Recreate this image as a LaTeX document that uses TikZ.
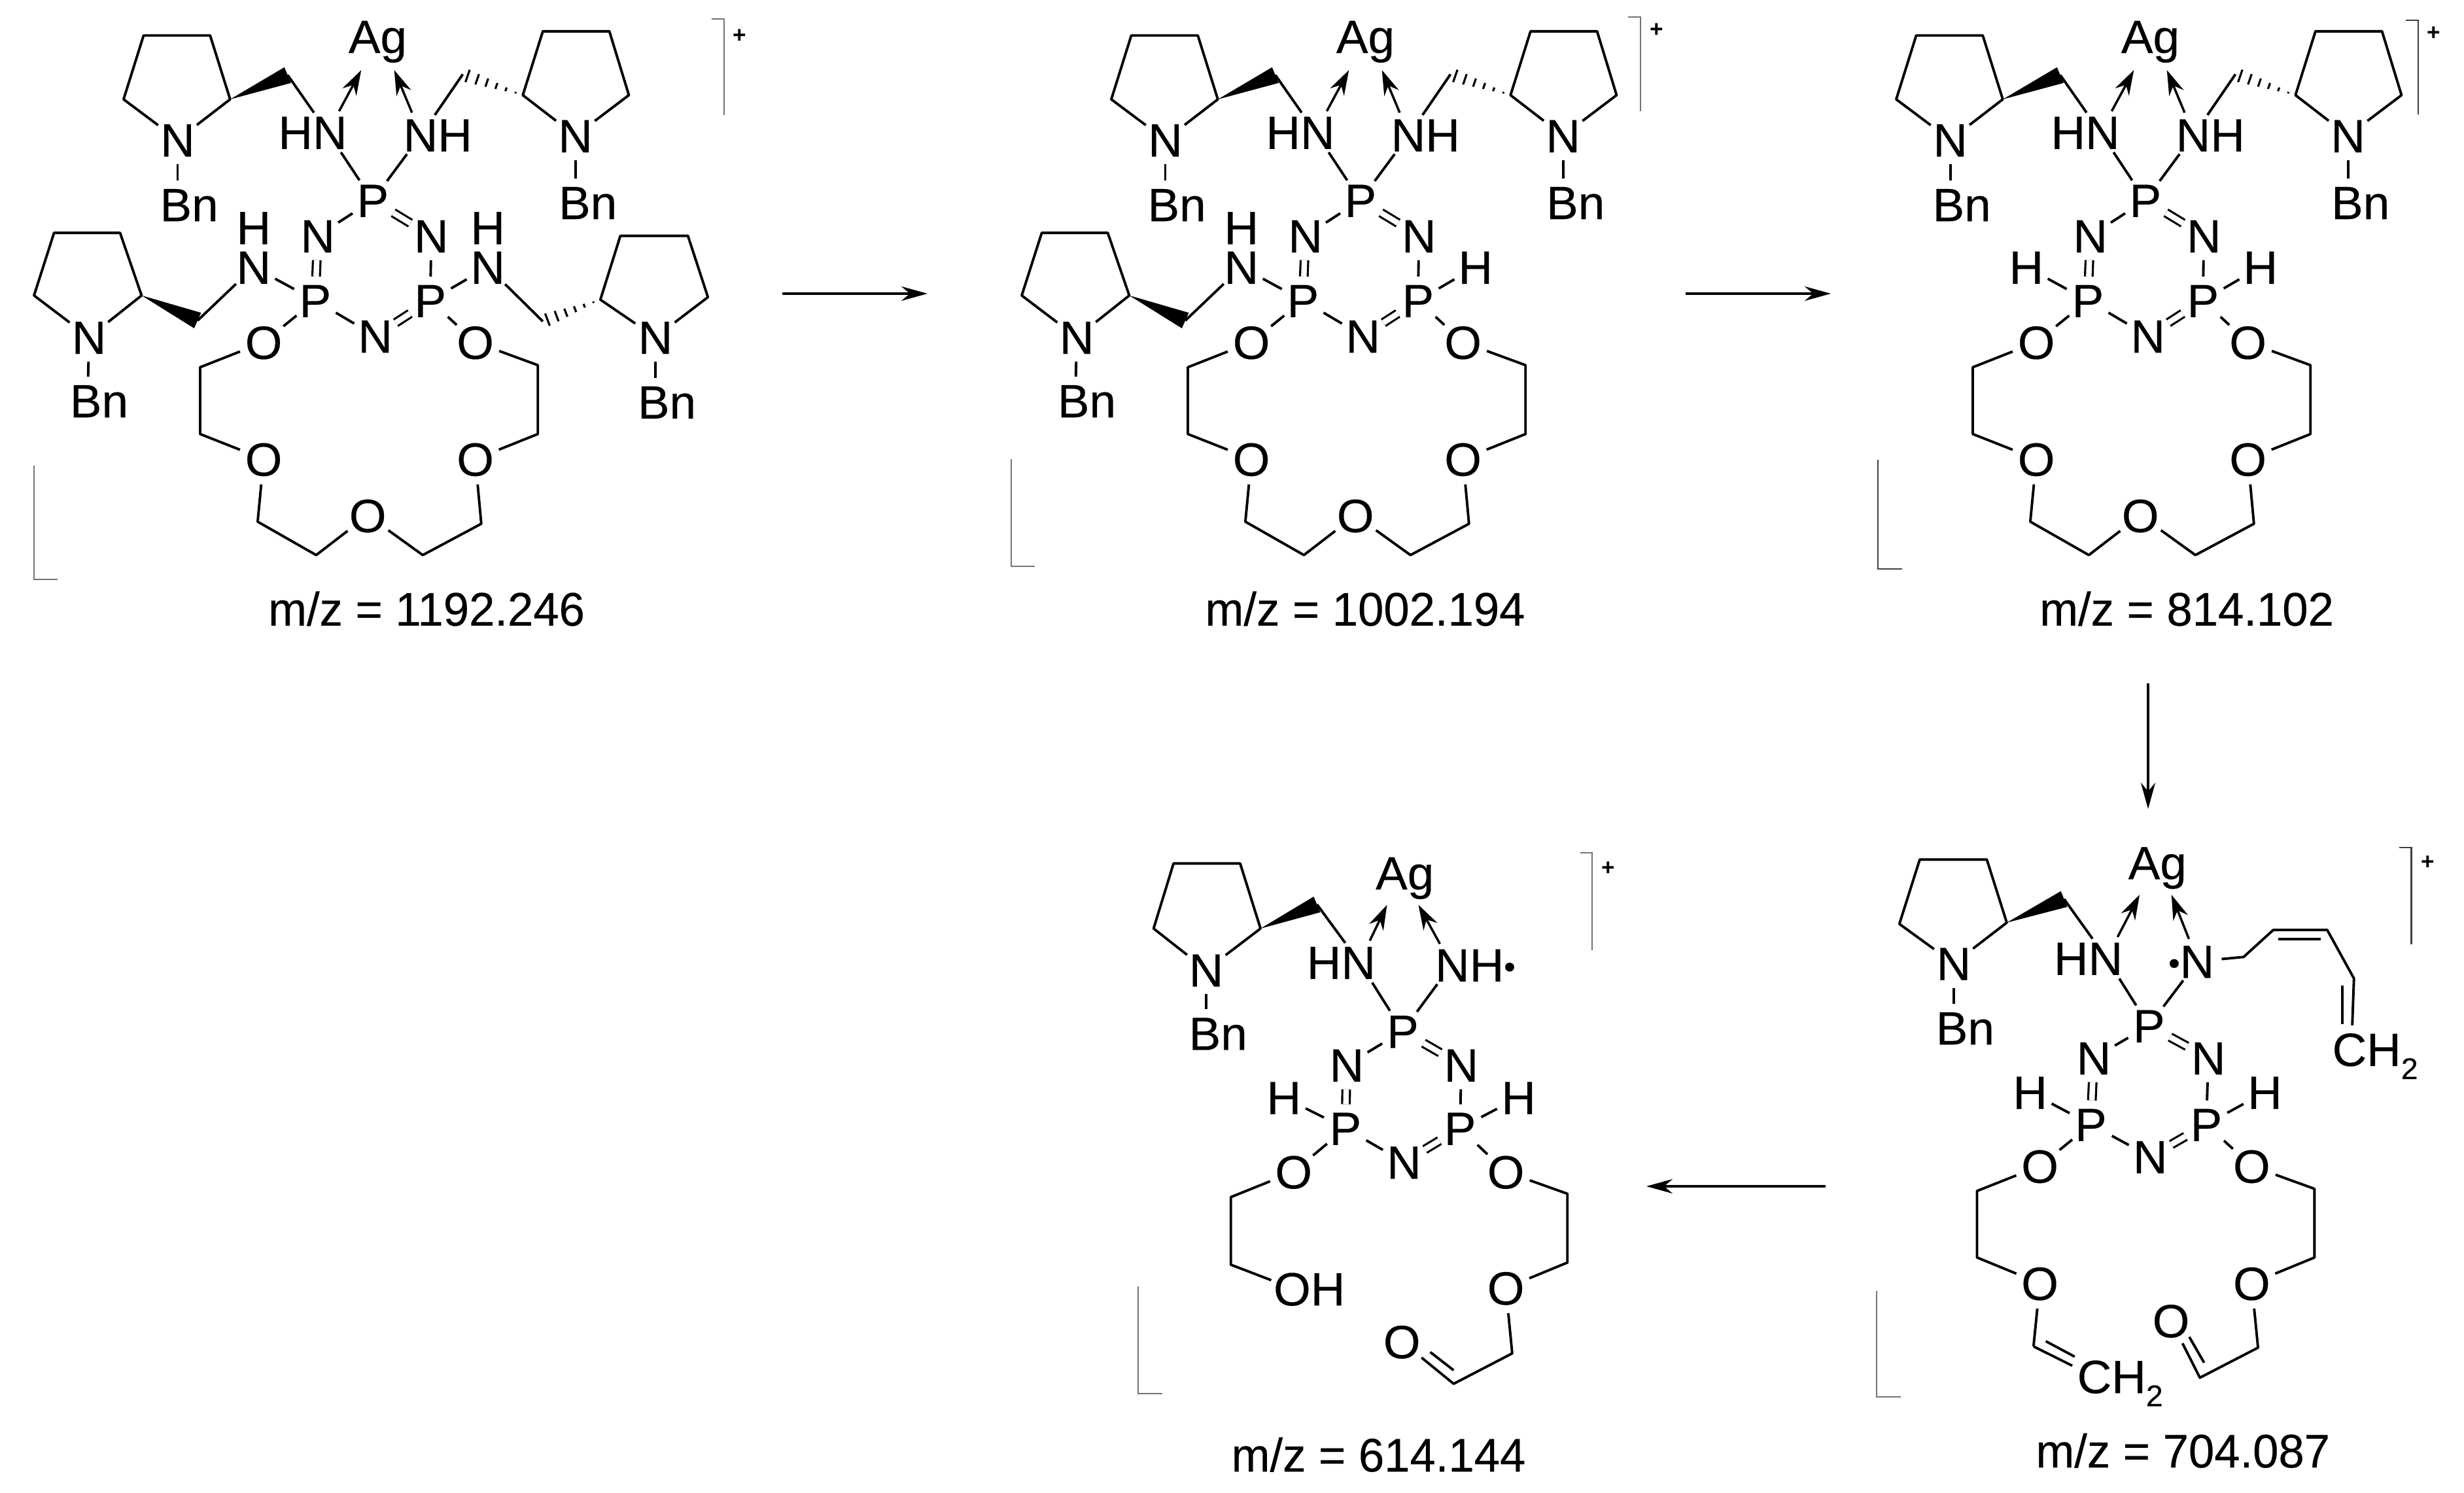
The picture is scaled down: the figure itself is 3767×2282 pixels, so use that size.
\documentclass[tikz,border=0pt]{standalone}
\usepackage{fontspec}
\usetikzlibrary{calc,arrows.meta}
\setmainfont{Liberation Sans}
\newfontfamily\atomf[FakeStretch=1.02,FakeBold=.3]{Liberation Sans}
\newfontfamily\labf[FakeStretch=.98,FakeBold=.3]{Liberation Sans}
\tikzset{
 bond/.style={line width=1.1pt,line join=round,line cap=butt},
 dbl/.style={bond,double,double distance=2.4pt,line width=.9pt},
 dative/.style={line width=1pt,-{Stealth[length=.38cm,width=.24cm]}},
 react/.style={line width=1.1pt,-{Stealth[length=.4cm,width=.22cm]}},
 atom/.style={circle,inner sep=0pt,minimum size=.72cm,font=\atomf\fontsize{20.3pt}{22pt}\selectfont,text height=14.5pt,text depth=0pt},
 spot/.style={circle,inner sep=0pt,minimum size=.72cm},
 txt/.style={inner sep=0pt,font=\atomf\fontsize{20.3pt}{22pt}\selectfont,text height=14.5pt,text depth=0pt},
 mz/.style={inner sep=0pt,font=\labf\fontsize{20.5pt}{22pt}\selectfont,text height=14.6pt,text depth=0pt},
 brk/.style={line width=.6pt,draw=black!55},
 brkd/.style={line width=.7pt,draw=black!75},
 chg/.style={inner sep=0pt,font=\bfseries\fontsize{10pt}{10pt}\selectfont},
 big/.style={x=.00765cm,y=-.00638cm},
}
\newcommand\wedgeb[2]{\fill[line join=round] (#1) -- ($(#2)!.13cm!90:(#1)$) -- ($(#2)!.13cm!-90:(#1)$) -- cycle;}
\newcommand\hashb[2]{\foreach \t/\w in {.12/.012cm,.28/.03cm,.44/.048cm,.6/.066cm,.76/.084cm,.92/.1cm}{\draw[line width=.9pt] ($(#1)!\t!(#2)!\w!90:(#2)$) -- ($(#1)!\t!(#2)!\w!-90:(#2)$);}}
\newcommand\subtwo{\raisebox{-.28em}{\fontsize{13pt}{13pt}\selectfont 2}}
\newcommand\raddot{\raisebox{.08em}{\fontsize{14pt}{14pt}\selectfont •}}
% pieces of the tetra-, di- and mono-substituted rings of the upper row
\newcommand\topLeft{
 \node[txt] (Ag) at (755,87) {Ag};
 \coordinate (agL) at (722,168); \coordinate (agR) at (788,168);
 \node[txt] (HNt) at (625,317) {HN}; \node[spot] (HNa) at (655,317) {};
 \node[atom] (tlN) at (355,335) {N};
 \coordinate (tl1) at (247,238); \coordinate (tl2) at (287,85); \coordinate (tl3) at (420,85); \coordinate (tl4) at (460,238); \coordinate (tlC) at (575,180);
 \draw[bond] (tlN) -- (tl1) -- (tl2) -- (tl3) -- (tl4) -- (tlN);
 \wedgeb{tl4}{tlC}
 \draw[bond] (tlC) -- (HNa);
 \node[txt] (tlBn) at (378,490) {Bn}; \node[spot] (tlB) at (355,490) {};
 \draw[bond] (tlN) -- (tlB);
 \draw[dative] (HNa) -- (agL);
}
\newcommand\topRight{
 \node[txt] (NHt) at (875,323) {NH}; \node[spot] (NHa) at (842,323) {};
 \node[atom] (trN) at (1150,325) {N};
 \coordinate (tr1) at (1045,228); \coordinate (tr2) at (1085,75); \coordinate (tr3) at (1218,75); \coordinate (tr4) at (1257,228); \coordinate (trC) at (925,178);
 \draw[bond] (trN) -- (tr1) -- (tr2) -- (tr3) -- (tr4) -- (trN);
 \hashb{tr1}{trC}
 \draw[bond] (trC) -- (NHa);
 \node[txt] (trBn) at (1175,485) {Bn}; \node[spot] (trB) at (1150,485) {};
 \draw[bond] (trN) -- (trB);
 \draw[dative] (NHa) -- (agR);
}
\newcommand\ringA{
 \node[atom] (Pt) at (745,480) {P}; \node[atom] (NL) at (635,565) {N}; \node[atom] (NR) at (862,565) {N};
 \node[atom] (PL) at (630,720) {P}; \node[atom] (PR) at (860,720) {P}; \node[atom] (Nb) at (750,805) {N};
 \draw[bond] (HNa) -- (Pt); \draw[bond] (NHa) -- (Pt);
 \draw[bond] (Pt) -- (NL); \draw[dbl] (Pt) -- (NR); \draw[dbl] (NL) -- (PL);
 \draw[bond] (NR) -- (PR); \draw[bond] (PL) -- (Nb); \draw[dbl] (PR) -- (Nb);
}
\newcommand\crown{
 \node[atom] (O1) at (527,820) {O}; \node[atom] (O2) at (527,1100) {O}; \node[atom] (O3) at (735,1235) {O};
 \node[atom] (O4) at (950,1100) {O}; \node[atom] (O5) at (950,820) {O};
 \coordinate (c1) at (400,880); \coordinate (c2) at (400,1040); \coordinate (c3) at (515,1250); \coordinate (c4) at (632,1330);
 \coordinate (c5) at (845,1330); \coordinate (c6) at (962,1255); \coordinate (c7) at (1075,1040); \coordinate (c8) at (1075,875);
 \draw[bond] (PL) -- (O1) -- (c1) -- (c2) -- (O2) -- (c3) -- (c4) -- (O3) -- (c5) -- (c6) -- (O4) -- (c7) -- (c8) -- (O5) -- (PR);
}
\newcommand\subL{
 \node[atom] (lN) at (507,640) {N}; \node[txt] (lNH) at (507,545) {H};
 \node[atom] (blN) at (178,808) {N};
 \coordinate (bl1) at (68,708); \coordinate (bl2) at (108,558); \coordinate (bl3) at (240,558); \coordinate (bl4) at (283,708); \coordinate (blC) at (395,768);
 \draw[bond] (blN) -- (bl1) -- (bl2) -- (bl3) -- (bl4) -- (blN);
 \wedgeb{bl4}{blC}
 \draw[bond] (blC) -- (lN); \draw[bond] (lN) -- (PL);
 \node[txt] (blBn) at (198,960) {Bn}; \node[spot] (blB) at (175,960) {};
 \draw[bond] (blN) -- (blB);
}
\newcommand\subR{
 \node[atom] (rN) at (975,640) {N}; \node[txt] (rNH) at (975,545) {H};
 \node[atom] (brN) at (1310,808) {N};
 \coordinate (br1) at (1200,718); \coordinate (br2) at (1240,565); \coordinate (br3) at (1375,565); \coordinate (br4) at (1415,712); \coordinate (brC) at (1085,770);
 \draw[bond] (brN) -- (br1) -- (br2) -- (br3) -- (br4) -- (brN);
 \hashb{br1}{brC}
 \draw[bond] (brC) -- (rN); \draw[bond] (rN) -- (PR);
 \node[txt] (brBn) at (1333,963) {Bn}; \node[spot] (brB) at (1310,963) {};
 \draw[bond] (brN) -- (brB);
}
\newcommand\hL{\node[atom] (lH) at (507,640) {H}; \draw[bond] (lH) -- (PL);}
\newcommand\hR{\node[atom] (rH) at (975,640) {H}; \draw[bond] (rH) -- (PR);}
\begin{document}
\begin{tikzpicture}[x=.01cm,y=-.01cm]
\useasboundingbox (0,0) rectangle (3767,2282);
% molecule 1
\begin{scope}[big,name prefix=a-]
 \topLeft \topRight \ringA \crown \subL \subR
\end{scope}
\draw[brk] (1088,29) -- (1107,29) -- (1107,176);
\node[chg] (p1) at (1131,55) {+};
\draw[brk] (52,712) -- (52,886) -- (88,886);
\node[mz] (mz1) at (652,931) {m/z = 1192.246};
% molecule 2
\begin{scope}[shift={(1510,0)},big,name prefix=b-]
 \topLeft \topRight \ringA \crown \subL \hR
\end{scope}
\draw[brk] (2489,26) -- (2508,26) -- (2508,170);
\node[chg] (p2) at (2533,46) {+};
\draw[brk] (1546,702) -- (1546,866) -- (1582,866);
\node[mz] (mz2) at (2087,931) {m/z = 1002.194};
% molecule 3
\begin{scope}[shift={(2710,0)},big,name prefix=c-]
 \topLeft \topRight \ringA \crown \hL \hR
\end{scope}
\draw[brkd] (3678,31) -- (3697,31) -- (3697,175);
\node[chg] (p3) at (3721,51) {+};
\draw[brkd] (2871,703) -- (2871,870) -- (2908,870);
\node[mz] (mz3) at (3343,931) {m/z = 814.102};
% molecule 4
\begin{scope}[shift={(2750,1250)},x=.00649cm,y=-.00656cm,name prefix=d-]
 \node[txt] (Ag) at (845,105) {Ag};
 \coordinate (agL) at (803,180); \coordinate (agR) at (878,180);
 \node[txt] (HNt) at (682,328) {HN}; \node[spot] (HNa) at (725,328) {};
 \node[txt] (Nrad) at (925,335) {\raddot N}; \node[spot] (Na) at (940,335) {};
 \node[atom] (tlN) at (365,340) {N};
 \coordinate (tl1) at (237,248); \coordinate (tl2) at (285,98); \coordinate (tl3) at (443,98); \coordinate (tl4) at (490,245); \coordinate (tlC) at (625,190);
 \draw[bond] (tlN) -- (tl1) -- (tl2) -- (tl3) -- (tl4) -- (tlN);
 \wedgeb{tl4}{tlC}
 \draw[bond] (tlC) -- (HNa);
 \node[txt] (tlBn) at (392,490) {Bn}; \node[spot] (tlB) at (365,490) {};
 \draw[bond] (tlN) -- (tlB);
 \draw[dative] (HNa) -- (agL); \draw[dative] (Na) -- (agR);
 \node[atom] (Pt) at (825,485) {P}; \node[atom] (NL) at (695,560) {N}; \node[atom] (NR) at (965,560) {N};
 \node[atom] (PL) at (688,715) {P}; \node[atom] (PR) at (960,715) {P}; \node[atom] (Nb) at (828,790) {N};
 \draw[bond] (HNa) -- (Pt); \draw[bond] (Na) -- (Pt);
 \draw[bond] (Pt) -- (NL); \draw[dbl] (Pt) -- (NR); \draw[dbl] (NL) -- (PL);
 \draw[bond] (NR) -- (PR); \draw[bond] (PL) -- (Nb); \draw[dbl] (PR) -- (Nb);
 \node[atom] (lH) at (545,640) {H}; \draw[bond] (lH) -- (PL);
 \node[atom] (rH) at (1098,640) {H}; \draw[bond] (rH) -- (PR);
 \node[atom] (O1) at (568,812) {O}; \node[atom] (O2) at (568,1085) {O};
 \node[atom] (O4) at (1067,1085) {O}; \node[atom] (O5) at (1067,812) {O}; \node[atom] (O6) at (877,1172) {O};
 \coordinate (c1) at (420,870); \coordinate (c2) at (420,1025); \coordinate (c3) at (553,1232);
 \coordinate (c7) at (1215,1025); \coordinate (c8) at (1215,865); \coordinate (c9) at (1082,1235); \coordinate (c10) at (945,1305);
 \draw[bond] (PL) -- (O1) -- (c1) -- (c2) -- (O2) -- (c3);
 \draw[bond] (PR) -- (O5) -- (c8) -- (c7) -- (O4) -- (c9) -- (c10) -- (O6);
 \coordinate (d1) at (920,1210); \coordinate (d2) at (955,1270);
 \draw[bond] (d1) -- (d2);
 \node[txt] (cht1) at (757,1302) {CH\subtwo}; \node[spot] (ch1) at (695,1302) {};
 \draw[bond] (c3) -- (ch1);
 \coordinate (d3) at (582,1220); \coordinate (d4) at (650,1256);
 \draw[bond] (d3) -- (d4);
 \coordinate (v1) at (1048,325); \coordinate (v2) at (1118,262); \coordinate (v3) at (1245,262); \coordinate (v4) at (1308,375);
 \node[txt] (cht2) at (1358,540) {CH\subtwo}; \node[spot] (ch2) at (1302,540) {};
 \draw[bond] (Na) -- (v1) -- (v2) -- (v3) -- (v4) -- (ch2);
 \coordinate (w1) at (1130,283); \coordinate (w2) at (1230,283); \coordinate (w3) at (1280,392); \coordinate (w4) at (1280,482);
 \draw[bond] (w1) -- (w2); \draw[bond] (w3) -- (w4);
 \draw[brkd] (1415,70) -- (1443,70) -- (1443,295);
 \node[chg] (p4) at (1482,105) {+};
 \draw[brk] (183,1103) -- (183,1350) -- (240,1350);
 \node[mz] (mz4) at (905,1475) {m/z = 704.087};
\end{scope}
% molecule 5
\begin{scope}[shift={(1700,1270)},x=.00649cm,y=-.00645cm,name prefix=e-]
 \node[txt] (Ag) at (690,100) {Ag};
 \coordinate (agL) at (648,176); \coordinate (agR) at (722,176);
 \node[txt] (HNt) at (540,312) {HN}; \node[spot] (HNa) at (583,312) {};
 \node[txt] (NHr) at (856,318) {NH\raddot}; \node[spot] (Na) at (800,318) {};
 \node[atom] (tlN) at (222,330) {N};
 \coordinate (tl1) at (98,232); \coordinate (tl2) at (145,78); \coordinate (tl3) at (302,78); \coordinate (tl4) at (350,232); \coordinate (tlC) at (483,175);
 \draw[bond] (tlN) -- (tl1) -- (tl2) -- (tl3) -- (tl4) -- (tlN);
 \wedgeb{tl4}{tlC}
 \draw[bond] (tlC) -- (HNa);
 \node[txt] (tlBn) at (250,480) {Bn}; \node[spot] (tlB) at (222,480) {};
 \draw[bond] (tlN) -- (tlB);
 \draw[dative] (HNa) -- (agL); \draw[dative] (Na) -- (agR);
 \node[atom] (Pt) at (685,475) {P}; \node[atom] (NL) at (553,555) {N}; \node[atom] (NR) at (823,555) {N};
 \node[atom] (PL) at (550,705) {P}; \node[atom] (PR) at (820,705) {P}; \node[atom] (Nb) at (688,785) {N};
 \draw[bond] (HNa) -- (Pt); \draw[bond] (Na) -- (Pt);
 \draw[bond] (Pt) -- (NL); \draw[dbl] (Pt) -- (NR); \draw[dbl] (NL) -- (PL);
 \draw[bond] (NR) -- (PR); \draw[bond] (PL) -- (Nb); \draw[dbl] (PR) -- (Nb);
 \node[atom] (lH) at (405,632) {H}; \draw[bond] (lH) -- (PL);
 \node[atom] (rH) at (958,632) {H}; \draw[bond] (rH) -- (PR);
 \node[atom] (O1) at (428,808) {O}; \node[atom] (O4) at (928,1083) {O}; \node[atom] (O5) at (928,808) {O}; \node[atom] (O6) at (683,1210) {O};
 \node[txt] (OHt) at (465,1085) {OH}; \node[spot] (OHa) at (428,1085) {};
 \coordinate (c1) at (280,868); \coordinate (c2) at (280,1028);
 \coordinate (c7) at (1073,1023); \coordinate (c8) at (1073,860); \coordinate (c9) at (943,1238); \coordinate (c10) at (805,1310);
 \draw[bond] (PL) -- (O1) -- (c1) -- (c2) -- (OHa);
 \draw[bond] (PR) -- (O5) -- (c8) -- (c7) -- (O4) -- (c9) -- (c10) -- (O6);
 \coordinate (d1) at (750,1235); \coordinate (d2) at (805,1278);
 \draw[bond] (d1) -- (d2);
 \draw[brk] (1103,53) -- (1131,53) -- (1131,283);
 \node[chg] (p5) at (1170,90) {+};
 \draw[brk] (62,1080) -- (62,1333) -- (118,1333);
 \node[mz] (mz5) at (628,1478) {m/z = 614.144};
\end{scope}
% reaction arrows
\coordinate (r1s) at (1196,449); \coordinate (r1e) at (1418,449);
\coordinate (r2s) at (2577,449); \coordinate (r2e) at (2799,449);
\coordinate (r3s) at (3284,1045); \coordinate (r3e) at (3284,1237);
\coordinate (r4s) at (2791,1814); \coordinate (r4e) at (2517,1814);
\draw[react] (r1s) -- (r1e);
\draw[react] (r2s) -- (r2e);
\draw[react] (r3s) -- (r3e);
\draw[react] (r4s) -- (r4e);
\end{tikzpicture}
\end{document}
